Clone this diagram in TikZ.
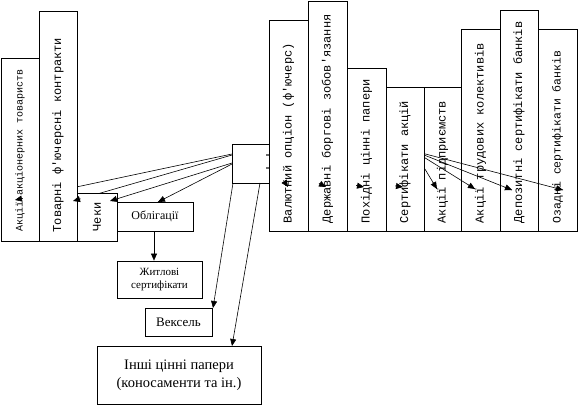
\documentclass[tikz,border=0pt]{standalone}
\usepackage{fontspec}
\setmainfont{Liberation Serif}
\setmonofont{Liberation Mono}
\usetikzlibrary{arrows.meta,fit,calc}
\pgfdeclarelayer{bg}
\pgfdeclarelayer{fg}
\pgfsetlayers{bg,main,fg}
\begin{document}
\begin{tikzpicture}[x=1pt,y=-1pt,
  box/.style={draw, line width=0.8pt, inner sep=0pt, fill=white},
  obox/.style={draw, line width=0.8pt, inner sep=0pt},
  ln/.style={line width=0.6pt},
  tipar/.style={-{Triangle[length=7pt,width=6pt]}, line width=0.6pt},
  vt/.style={rotate=90, anchor=west, inner sep=0pt, font=\ttfamily\fontsize{12}{14}\selectfont},
  ht/.style={inner sep=0pt, align=center}]
\useasboundingbox (0,0) rectangle (578,405);
% left group
\node[box, fit={(1,58)(39,241)}] (aat) {};
\node[box, fit={(39,11)(77,241)}] (tfk) {};
\node[box, fit={(77,193)(117,241)}] (chk) {};
\node[obox, fit={(117,202)(193,231)}] (obl) {};
\node[obox, fit={(117,261)(202,298)}] (zht) {};
\node[obox, fit={(145,308)(212,336)}] (vks) {};
\node[obox, fit={(97,346)(261,404)}] (ins) {};
\node[obox, fit={(232,144)(269,183)}] (cen) {};
% right group
\node[box, fit={(269,20)(308,231)}] (val) {};
\node[box, fit={(308,1)(347,231)}] (drz) {};
\node[box, fit={(347,68)(386,231)}] (pkh) {};
\node[box, fit={(386,87)(424,231)}] (srt) {};
\node[obox, fit={(424,87)(461,231)}] (apd) {};
\node[obox, fit={(461,29)(500,231)}] (atr) {};
\node[obox, fit={(500,10)(538,231)}] (dep) {};
\node[obox, fit={(538,29)(577,231)}] (ozd) {};
% texts
\node[vt, font=\ttfamily\fontsize{10}{12}\selectfont] (taat) at ([yshift=10pt]aat.south) {Акції акціонерних товариств};
\node[vt] (ttfk) at ([yshift=9pt]tfk.south) {Товарні ф'ючерсні контракти};
\node[vt] (tchk) at ([yshift=10pt]chk.south) {Чеки};
\node[ht, font=\fontsize{12}{14}\selectfont] (tobl) at (obl.center) {Облігації};
\node[ht, font=\fontsize{11}{13}\selectfont] (tzht) at (zht.center) {Житлові\\сертифікати};
\node[ht, font=\fontsize{13}{15}\selectfont] (tvks) at (vks.center) {Вексель};
\node[ht, font=\fontsize{14.5}{18}\selectfont] (tins) at (ins.center) {Інші цінні папери\\(коносаменти та ін.)};
\node[vt] (tval) at ([yshift=8pt]val.south) {Валютний опціон (ф'ючерс)};
\node[vt] (tdrz) at ([yshift=8pt]drz.south) {Державні боргові зобов'язання};
\node[vt] (tpkh) at ([yshift=8pt]pkh.south) {Похідні цінні папери};
\node[vt] (tsrt) at ([yshift=8pt]srt.south) {Сертифікати акцій};
\node[vt] (tapd) at ([yshift=8pt]apd.south) {Акції підприємств};
\node[vt] (tatr) at ([yshift=8pt]atr.south) {Акції трудових колективів};
\node[vt] (tdep) at ([yshift=8pt]dep.south) {Депозитні сертифікати банків};
\node[vt, font=\ttfamily\fontsize{11.5}{13}\selectfont] (tozd) at ([yshift=8pt]ozd.south) {Озадні сертифікати банків};
% connector ends
\coordinate (sL1) at (232,154);
\coordinate (sL2) at (232,155);
\coordinate (sL3) at (232,163);
\coordinate (sL4) at (232,164);
\coordinate (eL1) at (15,200);
\coordinate (eL2) at (73,201);
\coordinate (eL3) at (110,201);
\coordinate (eL4) at (158,202);
\coordinate (sR1) at (266,155);
\coordinate (sR2) at (266,155);
\coordinate (sR3) at (266,168);
\coordinate (sR4) at (266,168);
\coordinate (eR1) at (288,187);
\coordinate (eR2) at (326,187);
\coordinate (eR3) at (364,187);
\coordinate (eR4) at (403,187);
\coordinate (hub) at (414,151);
\coordinate (eR5) at (437,189);
\coordinate (eR6) at (475,189);
\coordinate (eR7) at (512,190);
\coordinate (eR8) at (563,190);
\coordinate (sD1) at (233,183);
\coordinate (sD2) at (260,183);
\coordinate (eD1) at (213,308);
\coordinate (eD2) at (232,346);
\begin{pgfonlayer}{bg}
\foreach \s/\e in {sL1/eL1,sL2/eL2,sL3/eL3,sL4/eL4,hub/eR5,hub/eR6,hub/eR7,hub/eR8}
  \draw[ln] (\s) -- (\e);
\foreach \s/\e in {sR1/eR1,sR2/eR2,sR3/eR3,sR4/eR4}
  \draw[ln] (\s) -- ++(4,0) -- (\e);
\end{pgfonlayer}
\begin{pgfonlayer}{fg}
\foreach \s/\e in {sL1/eL1,sL2/eL2,sL3/eL3,sL4/eL4,hub/eR5,hub/eR6,hub/eR7,hub/eR8,sR1/eR1,sR2/eR2,sR3/eR3,sR4/eR4}
  \draw[tipar] ($(\e)!8pt!(\s)$) -- (\e);
\end{pgfonlayer}
\draw[tipar] (obl.south -| 154,0) -- (zht.north -| 154,0);
\draw[tipar] (sD1) -- (eD1);
\draw[tipar] (sD2) -- (eD2);
\end{tikzpicture}
\end{document}
